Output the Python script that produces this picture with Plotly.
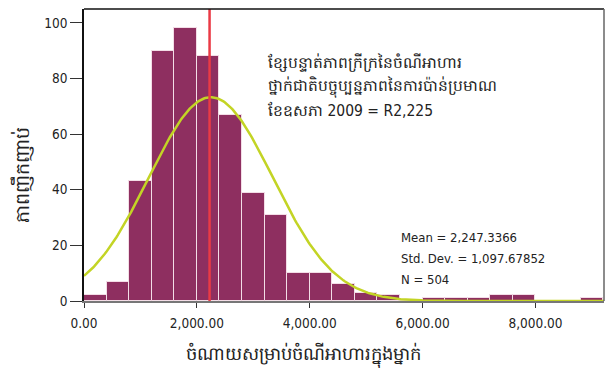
import numpy as np
import plotly.graph_objects as go

# Histogram data (bin starts, width 400)
bin_starts = [0, 400, 800, 1200, 1600, 2000, 2400, 2800, 3200, 3600, 4000, 4400,
              4800, 5200, 5600, 6000, 6400, 6800, 7200, 7600, 8000, 8400, 8800]
counts = [2, 7, 43, 90, 98, 88, 67, 39, 31, 10, 10, 6,
          3, 2, 0, 1, 1, 1, 2, 2, 0, 0, 1]
bin_width = 400

mean_val = 2247.3366
std_val = 1097.67852
n_val = 504
poverty_line = 2225

x_ticks = [0, 2000, 4000, 6000, 8000]
x_tick_labels = ["0.00", "2,000.00", "4,000.00", "6,000.00", "8,000.00"]
y_ticks = [0, 20, 40, 60, 80, 100]

x_title = "ចំណាយសម្រាប់ចំណីអាហារក្នុងម្នាក់"
y_title = "ភាពញឹកញាប់"
note_lines = ["ខ្សែបន្ទាត់ភាពក្រីក្រនៃចំណីអាហារ",
              "ថ្នាក់ជាតិបច្ចុប្បន្នភាពនៃការប៉ាន់ប្រមាណ",
              "ខែឧសភា 2009 = R2,225"]
stats_lines = ["Mean = 2,247.3366", "Std. Dev. = 1,097.67852", "N = 504"]

X_MAX = 9215
Y_MAX = 105

W, H = 608, 372
ML, MR, MT, MB = 84, 4, 9, 71
PW, PH = W - ML - MR, H - MT - MB


def px(xp):
    return (xp - ML) / PW


def py(yp):
    return (H - MB - yp) / PH


font_main = "DejaVu Sans Condensed, Liberation Sans Narrow, sans-serif"

centers = [s + bin_width / 2 for s in bin_starts]

fig = go.Figure()
fig.add_trace(go.Bar(
    x=centers, y=counts, width=bin_width,
    marker=dict(color="#8e2f60", line=dict(color="#f3dde6", width=1)),
    hoverinfo="x+y", showlegend=False,
))

# Fitted normal curve from the displayed mean / std. dev. / N
xc = np.linspace(0, X_MAX, 400)
yc = n_val * bin_width / (std_val * np.sqrt(2 * np.pi)) * np.exp(-0.5 * ((xc - mean_val) / std_val) ** 2)
fig.add_trace(go.Scatter(x=xc, y=yc, mode="lines",
                         line=dict(color="#c3d425", width=2.5),
                         hoverinfo="skip", showlegend=False))

# Poverty line
fig.add_trace(go.Scatter(x=[poverty_line, poverty_line], y=[0, Y_MAX], mode="lines",
                         line=dict(color="#ea3a45", width=2.5),
                         hoverinfo="skip", showlegend=False))

for line, yp in zip(note_lines, [63, 87, 110]):
    fig.add_annotation(x=px(266), xref="paper", y=py(yp), yref="paper",
                       text=line, showarrow=False,
                       xanchor="left", yanchor="middle", align="left",
                       font=dict(family=font_main, size=15.5, color="#222"))
for line, yp in zip(stats_lines, [237, 258, 279]):
    fig.add_annotation(x=px(399), xref="paper", y=py(yp), yref="paper",
                       text=line, showarrow=False,
                       xanchor="left", yanchor="middle", align="left",
                       font=dict(family=font_main, size=13, color="#222"))

# Axis titles as free annotations (reference centres them off the plot centre)
fig.add_annotation(x=px(303), xref="paper", y=py(355), yref="paper",
                   text=x_title, showarrow=False, xanchor="center", yanchor="middle",
                   font=dict(family=font_main, size=18, color="#222"))
fig.add_annotation(x=px(22), xref="paper", y=py(175), yref="paper",
                   text=y_title, showarrow=False, textangle=-90, xanchor="center", yanchor="middle",
                   font=dict(family=font_main, size=19, color="#222"))

fig.update_layout(
    width=W, height=H,
    margin=dict(l=ML, r=MR, t=MT, b=MB),
    paper_bgcolor="white", plot_bgcolor="white",
    bargap=0,
    font=dict(family=font_main, size=13.5, color="#222"),
    xaxis=dict(range=[0, X_MAX], tickvals=x_ticks, ticktext=x_tick_labels,
               ticks="outside", ticklen=5, tickcolor="#333", showgrid=False,
               zeroline=False, showline=True, linecolor="#777", linewidth=1.5,
               ticklabelstandoff=4),
    yaxis=dict(range=[0, Y_MAX], tickvals=y_ticks,
               ticks="outside", ticklen=12, tickcolor="#333", showgrid=False,
               zeroline=False, showline=True, linecolor="#111", linewidth=1.5),
)

# Top and right frame lines
fig.add_shape(type="line", xref="paper", yref="paper", x0=0, x1=1, y0=1, y1=1,
              line=dict(color="#111", width=1.5))
fig.add_shape(type="line", xref="paper", yref="paper", x0=1, x1=1, y0=0, y1=1,
              line=dict(color="#666", width=1.5))

fig.write_html("out.html")
